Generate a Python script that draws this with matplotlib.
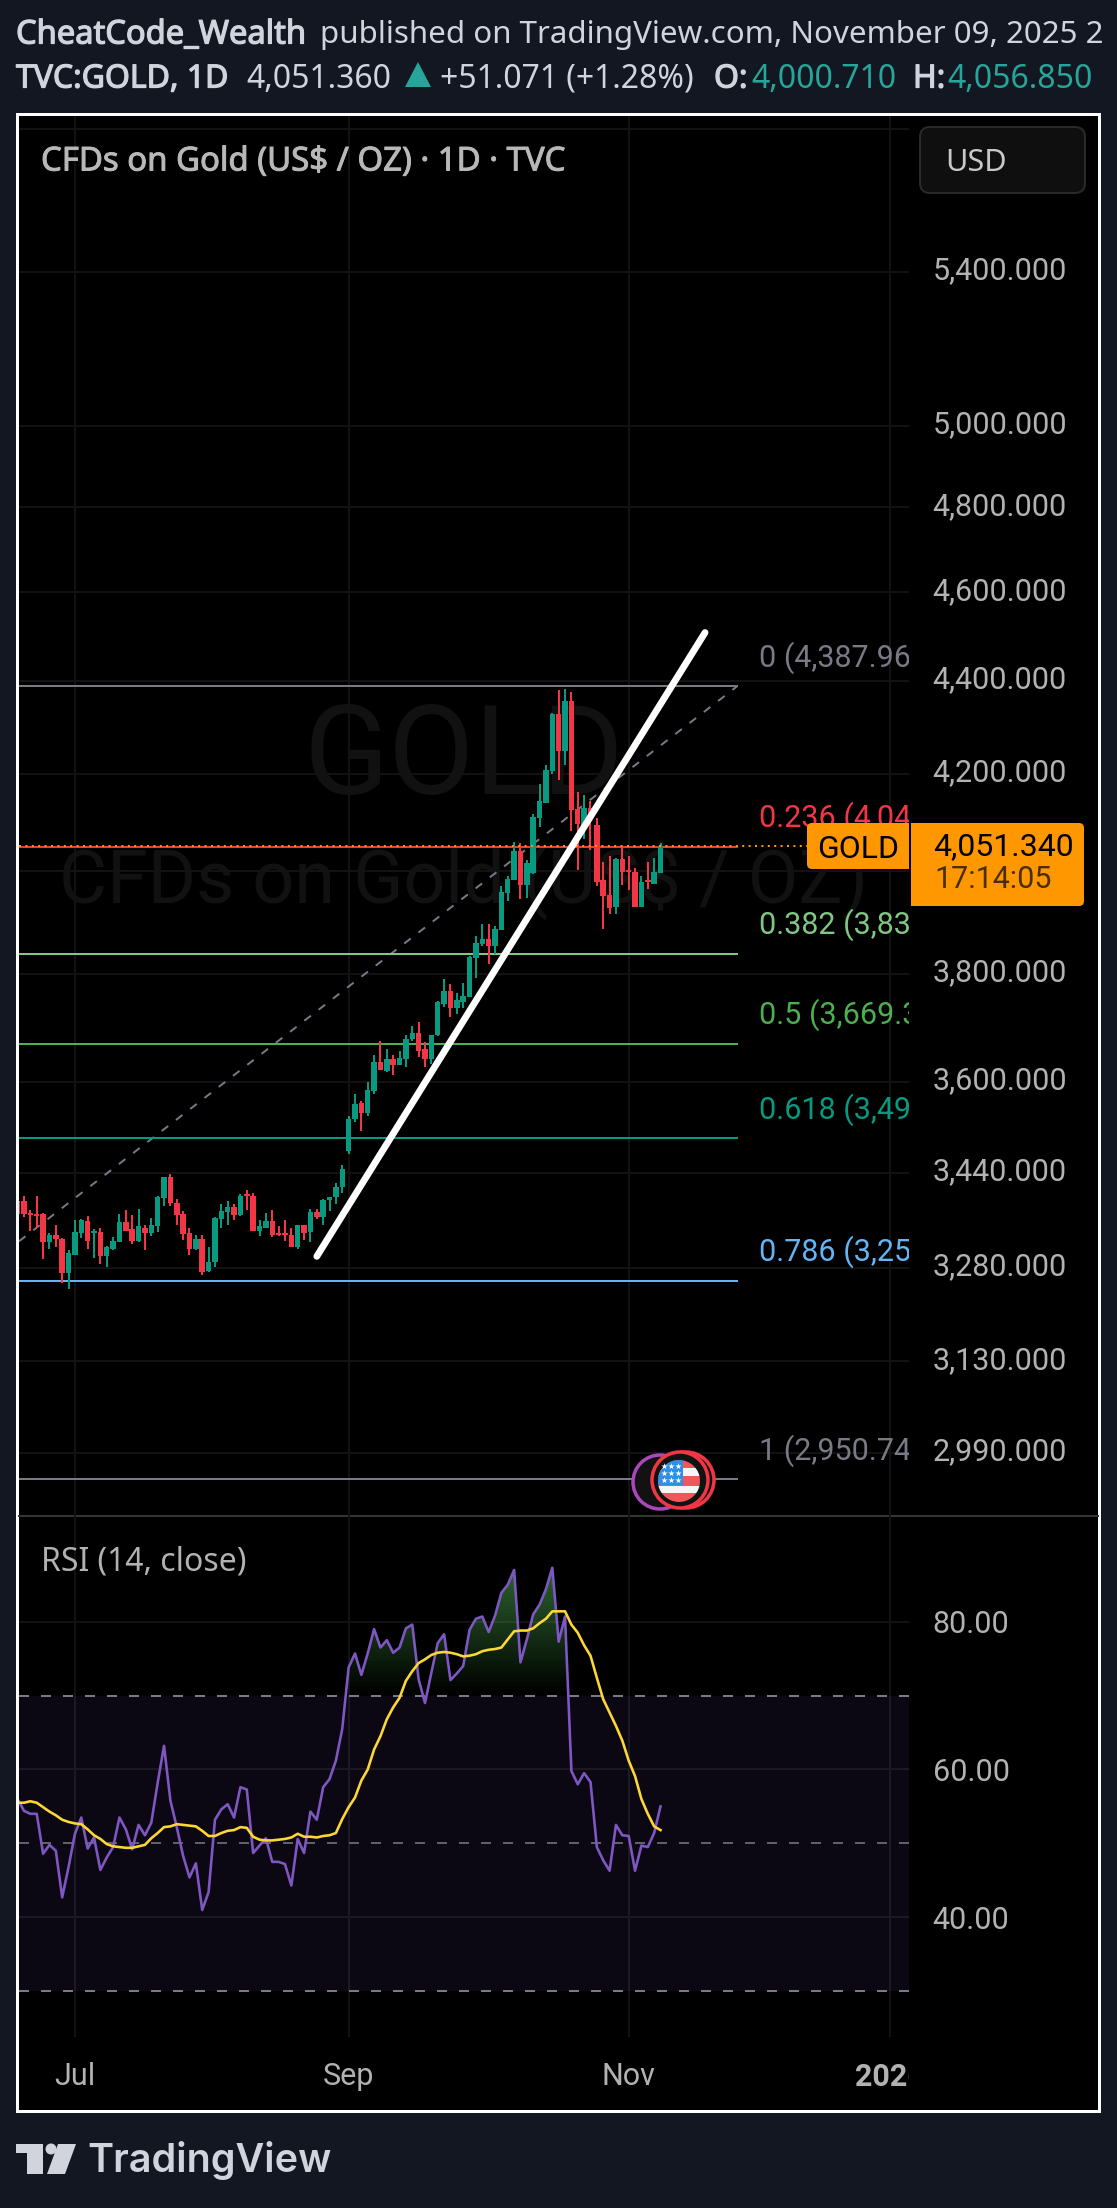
import numpy as np
import matplotlib
matplotlib.use('Agg')
import matplotlib.pyplot as plt
import matplotlib.patheffects as pe
from matplotlib.patches import Rectangle, Circle, FancyBboxPatch, Polygon
from matplotlib.path import Path
from matplotlib.transforms import Bbox, ScaledTranslation

W, H = 1117, 2208
plt.rcParams['font.family'] = ['Roboto', 'DejaVu Sans']

# daily candles, first one is cut by the left edge
opens = [3391, 3391, 3371, 3369, 3369, 3322, 3334, 3327, 3272, 3302,
         3337, 3358, 3337, 3339, 3300, 3312, 3322, 3356, 3344, 3324,
         3347, 3337, 3349, 3396, 3432, 3388, 3369, 3337, 3312, 3327,
         3275, 3289, 3361, 3373, 3381, 3368, 3403, 3400, 3341, 3347,
         3358, 3337, 3337, 3334, 3314, 3351, 3339, 3373, 3364, 3393,
         3398, 3415, 3477, 3533, 3563, 3545, 3584, 3636, 3620, 3642,
         3631, 3642, 3679, 3690, 3659, 3642, 3685, 3744, 3767, 3735,
         3746, 3757, 3831, 3858, 3866, 3854, 3885, 3957, 3982, 4041,
         3972, 3997, 4109, 4140, 4206, 4327, 4249, 4356, 4126, 4095,
         4128, 4095, 3982, 3953, 3930, 4024, 4003, 3999, 3930, 3982,
         3974, 3997]
highs = [3400, 3401, 3376, 3400, 3371, 3337, 3351, 3329, 3310, 3359,
         3361, 3366, 3344, 3346, 3317, 3331, 3369, 3376, 3368, 3378,
         3352, 3363, 3401, 3433, 3438, 3395, 3374, 3346, 3334, 3334,
         3315, 3364, 3386, 3391, 3386, 3403, 3410, 3406, 3359, 3371,
         3376, 3349, 3359, 3346, 3351, 3352, 3379, 3378, 3395, 3398,
         3422, 3454, 3540, 3579, 3565, 3600, 3648, 3675, 3659, 3649,
         3657, 3686, 3703, 3709, 3673, 3686, 3749, 3791, 3780, 3763,
         3783, 3835, 3872, 3897, 3897, 3893, 3970, 3990, 4059, 4057,
         4022, 4117, 4179, 4219, 4331, 4380, 4382, 4376, 4163, 4155,
         4144, 4109, 4018, 4030, 4026, 4049, 4030, 4006, 3990, 4018,
         4026, 4057]
lows = [3365, 3365, 3341, 3347, 3295, 3312, 3314, 3255, 3245, 3302,
        3329, 3312, 3297, 3287, 3282, 3310, 3322, 3342, 3320, 3322,
        3310, 3332, 3339, 3384, 3383, 3352, 3326, 3302, 3309, 3268,
        3273, 3282, 3346, 3351, 3359, 3366, 3376, 3341, 3332, 3346,
        3331, 3332, 3324, 3314, 3312, 3326, 3322, 3361, 3352, 3374,
        3386, 3406, 3472, 3528, 3512, 3540, 3578, 3622, 3618, 3612,
        3631, 3627, 3675, 3646, 3627, 3633, 3683, 3737, 3719, 3724,
        3735, 3756, 3793, 3854, 3819, 3839, 3885, 3941, 3982, 3945,
        3947, 3995, 4090, 4140, 4200, 4188, 4219, 4082, 4003, 4066,
        4043, 3970, 3887, 3916, 3916, 3972, 3963, 3930, 3930, 3964,
        3974, 3997]
closes = [3369, 3369, 3368, 3366, 3322, 3334, 3327, 3272, 3304, 3339,
          3359, 3324, 3341, 3300, 3314, 3324, 3356, 3342, 3324, 3349,
          3337, 3351, 3398, 3432, 3388, 3368, 3336, 3312, 3327, 3273,
          3290, 3363, 3374, 3381, 3368, 3401, 3400, 3341, 3349, 3358,
          3334, 3334, 3334, 3314, 3351, 3337, 3373, 3364, 3393, 3398,
          3415, 3447, 3533, 3560, 3545, 3586, 3636, 3622, 3642, 3631,
          3644, 3679, 3690, 3657, 3642, 3685, 3746, 3767, 3735, 3750,
          3759, 3833, 3860, 3866, 3854, 3887, 3959, 3984, 4041, 3972,
          4016, 4111, 4144, 4208, 4327, 4249, 4356, 4124, 4097, 4128,
          4111, 3978, 3951, 3928, 4024, 3999, 3999, 3930, 3978, 3978,
          3999, 4051]

rsi_values = [56.0, 54.4, 54.0, 54.0, 48.6, 49.8, 49.0, 42.7, 46.8, 51.3,
              53.5, 49.3, 50.8, 46.4, 48.1, 49.5, 53.5, 51.9, 49.2, 52.5,
              51.1, 52.8, 58.2, 63.2, 55.8, 52.2, 48.3, 45.4, 47.3, 41.0,
              43.4, 53.2, 54.6, 55.3, 53.5, 57.6, 57.3, 48.7, 49.7, 50.7,
              47.5, 47.5, 47.2, 44.3, 50.6, 48.7, 54.3, 53.2, 57.6, 58.7,
              61.2, 65.5, 73.8, 75.7, 72.8, 75.7, 79.0, 76.5, 77.5, 75.8,
              76.5, 79.1, 79.6, 72.2, 69.0, 73.1, 77.1, 78.3, 72.1, 73.0,
              74.0, 78.9, 80.4, 80.7, 78.6, 80.8, 83.9, 85.0, 87.0, 74.5,
              77.6, 81.0, 82.3, 84.4, 87.3, 77.3, 80.7, 59.8, 58.0, 59.5,
              58.3, 49.5, 47.7, 46.3, 52.5, 51.1, 51.0, 46.3, 49.7, 49.5,
              51.4, 55.0]
rsi_ma = [55.5, 55.5, 55.7, 55.5, 54.9, 54.3, 53.8, 53.2, 52.9, 52.7,
          52.6, 51.9, 51.1, 50.6, 49.9, 49.6, 49.5, 49.4, 49.4, 49.6,
          49.8, 50.7, 51.4, 52.2, 52.3, 52.6, 52.5, 52.4, 52.3, 51.7,
          51.0, 51.0, 51.4, 51.7, 51.8, 52.2, 52.1, 50.9, 50.5, 50.4,
          50.4, 50.5, 50.6, 50.8, 51.3, 50.9, 50.9, 50.8, 51.0, 51.1,
          51.4, 53.3, 54.9, 56.2, 58.5, 60.0, 62.7, 64.5, 66.8, 68.4,
          69.7, 72.0, 73.3, 74.4, 74.9, 75.5, 75.8, 75.9, 75.8, 75.6,
          75.3, 75.4, 75.6, 76.0, 76.2, 76.3, 76.5, 77.6, 78.7, 78.8,
          78.8, 79.1, 79.8, 80.4, 81.4, 81.4, 81.4, 79.6, 78.5, 76.8,
          75.4, 72.4, 69.5, 67.7, 65.9, 63.9, 61.2, 59.1, 56.0, 54.0,
          52.3, 51.8]

fib_ratios = ['0', '0.236', '0.382', '0.5', '0.618', '0.786', '1']
fib_prices = [4387.96, 4049.89, 3838.09, 3669.33, 3499.57, 3259.28, 2950.74]
fib_labels = ['4,387.960', '4,049.890', '3,838.090', '3,669.330', '3,499.570', '3,259.280', '2,950.740']
fib_colors = ['#787B86', '#F23645', '#81C784', '#4CAF50', '#089981', '#64B5F6', '#787B86']

price_ticks = [5800, 5400, 5000, 4800, 4600, 4400, 4200, 4000, 3800, 3600, 3440, 3280, 3130, 2990]
price_labels = ['', '5,400.000', '5,000.000', '4,800.000', '4,600.000', '4,400.000', '4,200.000', '4,000.000',
                '3,800.000', '3,600.000', '3,440.000', '3,280.000', '3,130.000', '2,990.000']
rsi_ticks = [80, 60, 40]
rsi_labels = ['80.00', '60.00', '40.00']
date_ticks = [9, 52, 96, 137]
date_labels = ['Jul', 'Sep', 'Nov', '2026']

GREEN = '#089981'
RED = '#F23645'
GRID = '#121212'
AXIS_TEXT = '#b2b2b2'
BG = '#131722'
HEAD = '#d1d4dc'
TEAL = '#26a69a'
px = 0.72  # one pixel in points at dpi 100


def pane(left, top, right, bottom, **kw):
    return fig.add_axes([left / W, 1 - bottom / H, (right - left) / W, (bottom - top) / H], **kw)


def bold(color=HEAD, width=0.9):
    return dict(path_effects=[pe.withStroke(linewidth=width, foreground=color)])


fig = plt.figure(figsize=(W / 100, H / 100), dpi=100, facecolor=BG)

# back layer in pixels: frame and watermark
back = pane(0, 0, W, H, zorder=0)
back.set_xlim(0, W)
back.set_ylim(H, 0)
back.axis('off')
back.add_patch(Rectangle((16, 113), 1085, 2000, fc='white', ec='none'))
back.add_patch(Rectangle((19, 116), 1079, 1994, fc='black', ec='none'))
back.plot([19, 1098], [1516, 1516], color='#363636', lw=2 * px)
back.text(464, 760, 'GOLD', fontsize=90, color='#111111', ha='center', va='center')
back.text(464, 881, 'CFDs on Gold (US$ / OZ)', fontsize=53, color='#111111', ha='center', va='center')

# price pane
ax = pane(19, 116, 909, 1516, zorder=1)
ax.patch.set_visible(False)
ax.set_yscale('log')
x = np.arange(len(opens))
o, h, l, c = map(np.array, (opens, highs, lows, closes))
colors = [GREEN if c[i] >= o[i] else RED for i in x]
ax.vlines(x, l, h, colors=colors, lw=2 * px, zorder=3)
ax.bar(x, np.abs(c - o), bottom=np.minimum(o, c), width=0.86, color=colors, zorder=3)

ax.set_xlim(0.214, 140.04)
ax.set_ylim(2897, 5838)
ax.set_xticks(date_ticks)
ax.set_xticklabels([])
ax.yaxis.set_major_locator(plt.FixedLocator(price_ticks))
ax.yaxis.set_major_formatter(plt.FixedFormatter(price_labels))
ax.yaxis.set_minor_locator(plt.NullLocator())
ax.yaxis.tick_right()
ax.tick_params(axis='both', length=0)
ax.tick_params(axis='y', labelsize=22, labelcolor=AXIS_TEXT, pad=17)
ax.grid(True, color=GRID, lw=2 * px, zorder=0)
ax.set_axisbelow(True)
for s in ax.spines.values():
    s.set_visible(False)
nudge = ScaledTranslation(0, 4 / 100, fig.dpi_scale_trans)
for t in ax.yaxis.get_major_ticks():
    t.label2.set_transform(t.label2.get_transform() + nudge)

# fib retracement
fib_end = 113
ax.plot([0.214, fib_end], [3324, fib_prices[0]], color='#787B86', lw=1.4 * px * 1.4,
        ls=(0, (4.2, 5)), zorder=2)
for ratio, price, lab, col in zip(fib_ratios, fib_prices, fib_labels, fib_colors):
    ax.plot([0.214, fib_end], [price, price], color=col, lw=2 * px, zorder=2)
    ax.annotate('%s (%s)' % (ratio, lab), xy=(116.5, price), xytext=(0, 29 * px), textcoords='offset points',
                color=col, fontsize=22, ha='left', va='center', clip_on=True)

# last price
ax.axhline(4051.34, color='#FF9800', lw=2 * px, ls=(0, (1, 2.2)), zorder=4)
# hand drawn trend line
ax.plot([47.0, 108.0], [3299, 4508], color='white', lw=6.8 * px, solid_capstyle='round', zorder=5)

# rsi pane
rsi = pane(19, 1516, 909, 2037, zorder=1)
rsi.patch.set_visible(False)
xr = np.arange(len(rsi_values))
xm = np.arange(len(rsi_ma))
rsi.axhspan(30, 70, color='#7E57C2', alpha=0.1, lw=0, zorder=1)
for level, col in ((70, '#787B86'), (50, '#5f606a'), (30, '#787B86')):
    rsi.axhline(level, color=col, lw=2 * px, ls=(0, (5, 6)), zorder=2)

over = rsi.fill_between(xr, 70, rsi_values, where=np.array(rsi_values) >= 70, interpolate=True, alpha=0)
grad = np.zeros((64, 2, 4))
grad[:, :, 0] = 76 / 255
grad[:, :, 1] = 175 / 255
grad[:, :, 2] = 80 / 255
grad[:, :, 3] = np.linspace(0, 1.0, 64)[:, None]
im = rsi.imshow(grad, extent=[0, 140, 70, 100], origin='lower', aspect='auto', zorder=2)
im.set_clip_path(Path.make_compound_path(*over.get_paths()), transform=rsi.transData)

rsi.plot(xr, rsi_values, color='#7E57C2', lw=2.6 * px, zorder=3)
rsi.plot(xm, rsi_ma, color='#FDD835', lw=2.6 * px, zorder=4)
rsi.set_xlim(0.214, 140.04)
rsi.set_ylim(23.8, 94.3)
rsi.set_xticks(date_ticks)
rsi.set_xticklabels(date_labels)
rsi.set_yticks(rsi_ticks)
rsi.set_yticklabels(rsi_labels)
rsi.yaxis.tick_right()
rsi.tick_params(axis='both', length=0)
rsi.tick_params(axis='y', labelsize=22, labelcolor=AXIS_TEXT, pad=17)
rsi.tick_params(axis='x', labelsize=22, labelcolor=AXIS_TEXT, pad=18)
rsi.grid(True, color=GRID, lw=2 * px, zorder=0)
rsi.set_axisbelow(True)
for s in rsi.spines.values():
    s.set_visible(False)
clip_px = Bbox.from_extents(0, 0, 909, H)
for t in rsi.get_xticklabels():
    t.set_clip_box(clip_px)
    t.set_clip_on(True)
rsi.get_xticklabels()[-1].set_fontweight('bold')

# front layer in pixels: header, boxes, icons, footer
top = pane(0, 0, W, H, zorder=5)
top.patch.set_visible(False)
top.set_xlim(0, W)
top.set_ylim(H, 0)
top.axis('off')

UI = 'Noto Sans'
top.text(16, 35, 'CheatCode_Wealth', family=UI, fontsize=23.5, color=HEAD, va='center', **bold())
top.text(320, 35, 'published on TradingView.com, November 09, 2025 2', family=UI, fontsize=22.5, color=HEAD, va='center')
top.text(16, 79, 'TVC:GOLD, 1D', family=UI, fontsize=23, color=HEAD, va='center', **bold())
top.text(246, 79, '4,051.360', family=UI, fontsize=23, color=HEAD, va='center')
top.add_patch(Polygon([[405, 87], [418, 62], [431, 87]], fc=TEAL, ec='none'))
top.text(440, 79, '+51.071 (+1.28%)', family=UI, fontsize=23, color=HEAD, va='center')
top.text(714, 79, 'O:', family=UI, fontsize=23, color=HEAD, va='center', **bold())
top.text(751, 79, '4,000.710', family=UI, fontsize=23, color=TEAL, va='center')
top.text(913, 79, 'H:', family=UI, fontsize=23, color=HEAD, va='center', **bold())
top.text(947, 79, '4,056.850', family=UI, fontsize=23, color=TEAL, va='center')

top.text(41, 162, 'CFDs on Gold (US$ / OZ) · 1D · TVC', family=UI, fontsize=23.7, color='#b8b8b8', va='center',
         **bold('#b8b8b8', 0.7))
top.add_patch(FancyBboxPatch((926, 133), 153, 54, boxstyle='round,pad=6,rounding_size=10',
                             fc='#0f0f0f', ec='#2a2a2a', lw=2 * px))
top.text(945, 163, 'USD', family=UI, fontsize=22, color='#c8c8c8', va='center')
top.text(41, 1562, 'RSI (14, close)', family=UI, fontsize=23, color='#b2b2b2', va='center')

# price labels on the right
top.add_patch(FancyBboxPatch((813, 829), 90, 34, boxstyle='round,pad=6,rounding_size=5', fc='#FF9800', ec='none'))
top.add_patch(Rectangle((860, 823), 49, 46, fc='#FF9800', ec='none'))
top.text(858, 850, 'GOLD', fontsize=23, color='black', ha='center', va='center')
top.add_patch(FancyBboxPatch((917, 829), 161, 71, boxstyle='round,pad=6,rounding_size=5', fc='#FF9800', ec='none'))
top.add_patch(Rectangle((911, 823), 50, 83, fc='#FF9800', ec='none'))
top.text(933, 847, '4,051.340', fontsize=23, color='black', va='center')
top.text(934, 880, '17:14:05', fontsize=22, color='#4a2e00', va='center')

# event icons
top.add_patch(Circle((660, 1482), 27, fc='#121212', ec='#AB47BC', lw=3.5 * px))
top.add_patch(Circle((686, 1480), 28, fc='#121212', ec=RED, lw=3.5 * px))
top.add_patch(Circle((680, 1480), 28, fc='#121212', ec=RED, lw=3.5 * px))
flag = Circle((679, 1481), 21, fc='#f0575a', ec='none')
top.add_patch(flag)
parts = [Rectangle((655, 1468), 50, 8, fc='#f5f5f5', ec='none'),
         Rectangle((655, 1486), 50, 7, fc='#f5f5f5', ec='none'),
         Rectangle((655, 1458), 28, 27, fc='#2f8fe8', ec='none')]
for p in parts:
    top.add_patch(p)
    p.set_clip_path(flag)
star_x, star_y = np.meshgrid([664, 671, 678], [1466, 1473, 1480])
top.scatter(star_x.ravel(), star_y.ravel(), marker='*', s=22, c='white', lw=0, zorder=4)

# footer logo
LOGO = '#d1d4dc'
top.add_patch(Polygon([[16, 2144], [43, 2144], [43, 2174], [27, 2174], [27, 2153], [16, 2153]], fc=LOGO, ec='none'))
top.add_patch(Circle((51, 2149), 5.5, fc=LOGO, ec='none'))
top.add_patch(Polygon([[58, 2144], [76, 2144], [65, 2174], [47, 2174]], fc=LOGO, ec='none'))
top.text(87, 2160, 'TradingView', family='Inter', weight='semibold', fontsize=28.5, color=LOGO, va='center')

fig.savefig('out.png', dpi=100, facecolor=BG)
